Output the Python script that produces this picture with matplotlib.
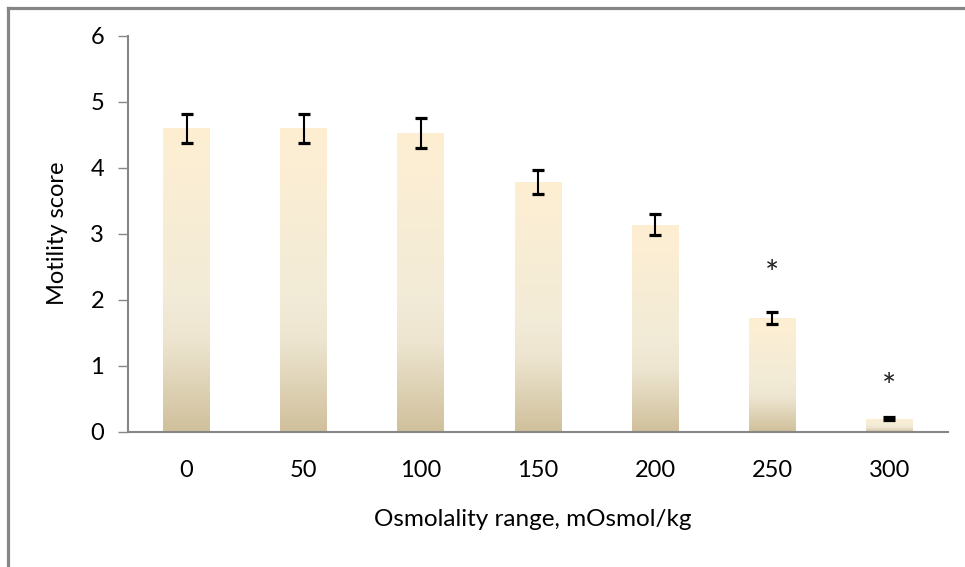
import matplotlib
matplotlib.use("Agg")
import matplotlib.pyplot as plt
import numpy as np
from matplotlib.colors import LinearSegmentedColormap
from matplotlib.lines import Line2D

categories = ["0", "50", "100", "150", "200", "250", "300"]
values = [4.60, 4.60, 4.53, 3.79, 3.14, 1.73, 0.20]
errors = [0.22, 0.22, 0.23, 0.18, 0.16, 0.09, 0.02]
star_idx = [5, 6]
star_y = [2.38, 0.66]

plt.rcParams['font.family'] = ['Lato', 'DejaVu Sans']

fig = plt.figure(figsize=(9.65, 5.67), dpi=100)
ax = fig.add_axes([128/965, 1-432/567, 820/965, 396/567])

x = np.arange(len(categories))
bars = ax.bar(x, values, width=0.4, color='none', edgecolor='none', zorder=2)

cmap = LinearSegmentedColormap.from_list(
    'beige', [(0.0, '#D0C09B'), (0.30, '#EDE5D0'), (0.45, '#F2EBD7'), (1.0, '#FEEFD2')])
grad = np.linspace(0, 1, 256).reshape(-1, 1)
for b in bars:
    x0 = b.get_x(); w = b.get_width(); h = b.get_height()
    im = ax.imshow(grad, cmap=cmap, origin='lower', aspect='auto',
                   extent=[x0, x0 + w, 0, h], interpolation='bicubic', zorder=2)
    im.set_clip_path(b)

ax.errorbar(x, values, yerr=errors, fmt='none', ecolor='black',
            elinewidth=1.5, capsize=4.3, capthick=2.3, zorder=3)

for i, yy in zip(star_idx, star_y):
    ax.text(x[i], yy, '*', ha='center', va='center', fontsize=24, color='#222222')

ax.set_xlim(-0.5, len(categories) - 0.5)
ax.set_ylim(0, 6)
ax.set_yticks(range(0, 7))
ax.set_xticks(x)
ax.set_xticklabels(categories)

for s in ['top', 'right']:
    ax.spines[s].set_visible(False)
for s in ['left', 'bottom']:
    ax.spines[s].set_color('#868686')
    ax.spines[s].set_linewidth(1.5)

ax.tick_params(axis='y', length=7.2, width=1, color='#868686', pad=10, labelsize=17)
ax.tick_params(axis='x', length=0, pad=20, labelsize=17)

fig.text(58/965, 1-233/567, 'Motility score', rotation=90, ha='center', va='center', fontsize=17)
fig.text(533/965, 1-519/567, 'Osmolality range, mOsmol/kg', ha='center', va='center', fontsize=17.5)

# frame lines (left and top)
fig.add_artist(Line2D([8/965, 8/965], [0, 1-7.5/567], transform=fig.transFigure,
                      color='#868686', linewidth=2.3))
fig.add_artist(Line2D([8/965, 1], [1-7.5/567, 1-7.5/567], transform=fig.transFigure,
                      color='#868686', linewidth=2.3))

fig.savefig('out.png', dpi=100)
